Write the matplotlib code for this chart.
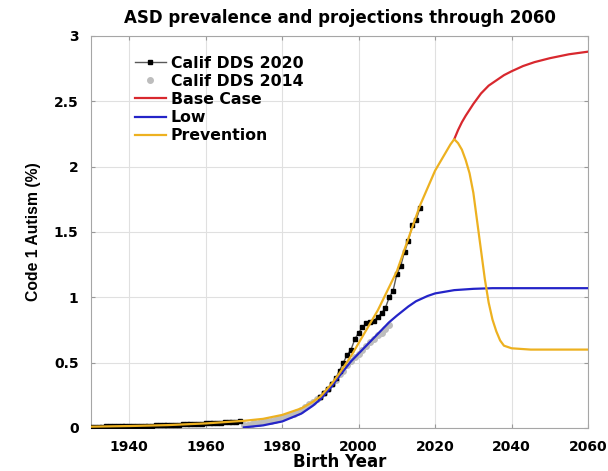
import numpy as np
import matplotlib
matplotlib.use("Agg")
import matplotlib.pyplot as plt

plt.rcParams["font.family"] = ["DejaVu Sans"]
plt.rcParams["font.weight"] = "bold"

nan = np.nan

# Calif DDS 2020 (black squares); 1970-1989 hidden under the 2014 series
dds20_years = list(range(1930, 2017))
dds20_vals = [0.010, 0.010, 0.011, 0.011, 0.012, 0.012, 0.013, 0.013, 0.014, 0.014,
              0.015, 0.015, 0.016, 0.017, 0.018, 0.018, 0.019, 0.020, 0.021, 0.022,
              0.023, 0.024, 0.025, 0.026, 0.028, 0.030, 0.031, 0.032, 0.033, 0.034,
              0.036, 0.037, 0.038, 0.040, 0.041, 0.043, 0.044, 0.046, 0.048, 0.050,
              nan, nan, nan, nan, nan, nan, nan, nan, nan, nan,
              nan, nan, nan, nan, nan, nan, nan, nan, nan, nan,
              0.24, 0.27, 0.30, 0.34, 0.38, 0.44, 0.50, 0.56, 0.60, 0.68,
              0.73, 0.77, 0.80, 0.81, 0.82, 0.85, 0.88, 0.92, 1.00, 1.05,
              1.18, 1.24, 1.35, 1.43, 1.55, 1.59, 1.68]

# Calif DDS 2014 (grey dots)
dds14_years = list(range(1970, 2009))
dds14_vals = [0.02, 0.025, 0.03, 0.035, 0.04, 0.045, 0.05, 0.055, 0.06, 0.07,
              0.08, 0.09, 0.10, 0.11, 0.125, 0.14, 0.16, 0.18, 0.20, 0.22,
              0.24, 0.27, 0.30, 0.34, 0.37, 0.41, 0.44, 0.48, 0.51, 0.54,
              0.57, 0.60, 0.63, 0.66, 0.68, 0.71, 0.73, 0.76, 0.79]

# Base Case (red)
base_years = [2025, 2026, 2027, 2028, 2030, 2032, 2034, 2036, 2038, 2040,
              2043, 2046, 2050, 2055, 2060]
base_vals = [2.21, 2.28, 2.34, 2.39, 2.48, 2.56, 2.62, 2.66, 2.70, 2.73,
             2.77, 2.80, 2.83, 2.86, 2.88]

# Low (blue)
low_years = [1970, 1975, 1980, 1985, 1988, 1990, 1993, 1995, 1998, 2000,
             2003, 2005, 2008, 2010, 2013, 2015, 2018, 2020, 2025, 2030,
             2035, 2040, 2060]
low_vals = [0.005, 0.02, 0.05, 0.11, 0.17, 0.22, 0.32, 0.40, 0.51, 0.57,
            0.66, 0.72, 0.81, 0.86, 0.93, 0.97, 1.01, 1.03, 1.055, 1.065,
            1.07, 1.07, 1.07]

# Prevention (orange)
prev_years = [1930, 1940, 1950, 1960, 1965, 1970, 1975, 1980, 1985, 1988,
              1990, 1993, 1995, 1998, 2000, 2003, 2005, 2008, 2010, 2013,
              2016, 2020, 2023, 2024, 2025, 2026, 2027, 2028, 2029, 2030,
              2031, 2032, 2033, 2034, 2035, 2036, 2037, 2038, 2040, 2045, 2060]
prev_vals = [0.01, 0.015, 0.022, 0.035, 0.045, 0.055, 0.07, 0.10, 0.15, 0.20,
             0.24, 0.34, 0.42, 0.55, 0.65, 0.80, 0.90, 1.08, 1.20, 1.45,
             1.70, 1.97, 2.12, 2.17, 2.21, 2.18, 2.13, 2.05, 1.95, 1.80,
             1.58, 1.36, 1.14, 0.96, 0.83, 0.74, 0.67, 0.63, 0.61, 0.60, 0.60]

x_ticks = [1940, 1960, 1980, 2000, 2020, 2040, 2060]
y_ticks = [0, 0.5, 1, 1.5, 2, 2.5, 3]
y_ticklabels = ["0", "0.5", "1", "1.5", "2", "2.5", "3"]

ORANGE = "#EDB120"
BLUE = "#2424C8"
RED = "#D8282E"

fig = plt.figure(figsize=(6.08, 4.71), dpi=100)
ax = fig.add_axes([0.1497, 0.0913, 0.8175, 0.8323])

ax.plot(dds20_years, dds20_vals, color="0.35", lw=1.0, marker="s",
        markersize=3.5, markerfacecolor="black", markeredgecolor="black",
        label="Calif DDS 2020", zorder=3)
ax.plot(dds14_years, dds14_vals, linestyle="none", marker="o", markersize=4,
        color="#BDBDBD", label="Calif DDS 2014", zorder=2)
ax.plot(base_years, base_vals, color=RED, lw=1.6, label="Base Case", zorder=4)
ax.plot(low_years, low_vals, color=BLUE, lw=1.6, label="Low", zorder=4)
ax.plot(prev_years, prev_vals, color=ORANGE, lw=1.6, label="Prevention", zorder=5)

ax.set_xlim(1930, 2060)
ax.set_ylim(0, 3)
ax.set_xticks(x_ticks)
ax.set_yticks(y_ticks)
ax.set_yticklabels(y_ticklabels)
ax.tick_params(direction="in", length=3, color="0.6", labelsize=10,
               top=True, right=True, pad=9)
for lbl in ax.get_xticklabels() + ax.get_yticklabels():
    lbl.set_fontweight("bold")
ax.grid(True, color="0.88", lw=0.8)
for sp in ax.spines.values():
    sp.set_color("0.65")

ax.set_title("ASD prevalence and projections through 2060", fontsize=12,
             fontweight="bold", pad=9)
ax.set_xlabel("Birth Year", fontsize=12, fontweight="bold", labelpad=-1)
ax.set_ylabel("Code 1 Autism (%)", fontsize=11.3, fontweight="bold",
              labelpad=9, family="Liberation Sans")

leg = ax.legend(loc="upper left", bbox_to_anchor=(0.088, 0.95), frameon=False,
                fontsize=11.3, handlelength=2.0, handletextpad=0.3,
                labelspacing=0.2, borderaxespad=0, borderpad=0)
for t in leg.get_texts():
    t.set_fontweight("bold")

plt.savefig("out.png", dpi=100)
plt.close(fig)
